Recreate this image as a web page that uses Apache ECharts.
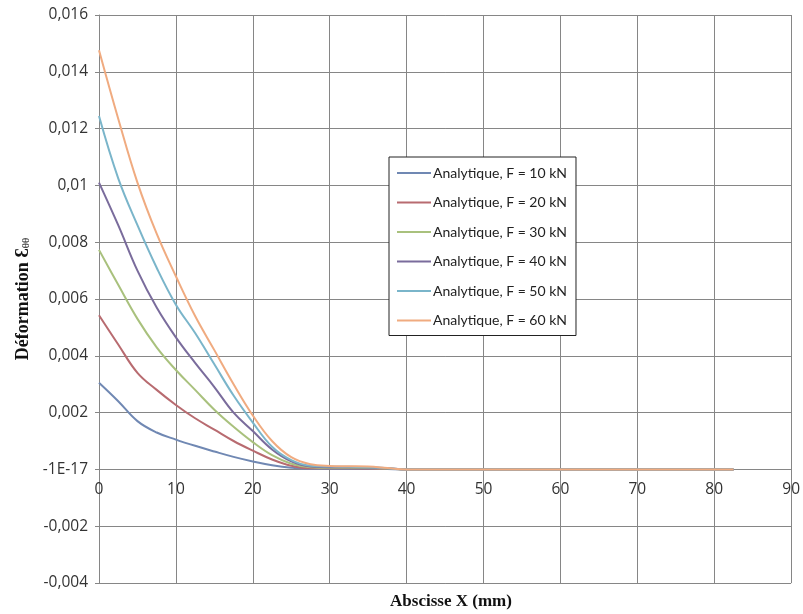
<!DOCTYPE html>
<html>
<head>
<meta charset="utf-8">
<script src="https://cdn.jsdelivr.net/npm/echarts@6/dist/echarts.min.js"></script>
<style>html,body{margin:0;padding:0;background:#fff;}#c{width:803px;height:614px;}</style>
</head>
<body>
<div id="c"></div>
<script>
const xValues = [0, 2.5, 5, 7.5, 10, 12.5, 15, 17.5, 20, 22.5, 25, 27.5, 30, 32.5, 35, 37.5, 40, 42.5, 50, 60, 70, 80, 82.5];
const f10 = [0.00305, 0.0024, 0.0017, 0.0013, 0.00105, 0.00083, 0.00063, 0.00044, 0.00028, 0.00015, 0.00006, 0.00002, 0.00002, 0.00002, 0.00002, 0.00001, 0, 0, 0, 0, 0, 0, 0];
const f20 = [0.00543, 0.0044, 0.0034, 0.0028, 0.00227, 0.0018, 0.0014, 0.001, 0.00066, 0.00035, 0.00013, 0.00004, 0.00004, 0.00004, 0.00003, 0.00002, 0, 0, 0, 0, 0, 0, 0];
const f30 = [0.00773, 0.0065, 0.0053, 0.0043, 0.0035, 0.0028, 0.0021, 0.0015, 0.00096, 0.0005, 0.0002, 0.00008, 0.00006, 0.00006, 0.00005, 0.00003, 0, 0, 0, 0, 0, 0, 0];
const f40 = [0.0101, 0.0086, 0.0070, 0.0057, 0.00465, 0.00375, 0.0029, 0.0020, 0.00135, 0.0007, 0.00028, 0.0001, 0.00008, 0.00008, 0.00007, 0.00004, 0, 0, 0, 0, 0, 0, 0];
const f50 = [0.01244, 0.01025, 0.0086, 0.0071, 0.0058, 0.0048, 0.0037, 0.0026, 0.00165, 0.0008, 0.00033, 0.00013, 0.0001, 0.00009, 0.00008, 0.00004, 0, 0, 0, 0, 0, 0, 0];
const f60 = [0.01476, 0.01235, 0.0101, 0.0083, 0.0068, 0.0054, 0.0042, 0.003, 0.0019, 0.001, 0.00043, 0.00018, 0.00012, 0.00011, 0.0001, 0.00005, 0, 0, 0, 0, 0, 0, 0];
const seriesNames = ['Analytique, F = 10 kN', 'Analytique, F = 20 kN', 'Analytique, F = 30 kN', 'Analytique, F = 40 kN', 'Analytique, F = 50 kN', 'Analytique, F = 60 kN'];
const yTickLabels = ['-0,004', '-0,002', '-1E-17', '0,002', '0,004', '0,006', '0,008', '0,01', '0,012', '0,014', '0,016'];
const xTickLabels = ['0', '10', '20', '30', '40', '50', '60', '70', '80', '90'];

const allValues = [f10, f20, f30, f40, f50, f60];
const colors = ['#7088b3', '#b86b70', '#a9c17d', '#7a6c9c', '#7ab5ca', '#f0ab80'];
const yMin = -0.004, yMax = 0.016, yInt = 0.002;
const gridTop = 15, gridBottomPx = 583;
const zeroOffset = (gridBottomPx - gridTop) * (0 - yMin) / (yMax - yMin);

const chart = echarts.init(document.getElementById('c'));
chart.setOption({
  backgroundColor: '#ffffff',
  animation: false,
  title: {
    text: 'Abscisse X (mm)',
    left: 446, top: 588,
    textAlign: 'center',
    textStyle: { fontFamily: 'Liberation Serif', fontWeight: 'bold', fontSize: 17, color: '#111' }
  },
  grid: { left: 99, right: 9, top: gridTop, bottom: 614 - gridBottomPx, containLabel: false },
  legend: {
    orient: 'vertical',
    left: 389, top: 157,
    width: 190,
    padding: [9, 9, 8, 7],
    itemWidth: 34, itemHeight: 14, itemGap: 15.5,
    borderColor: '#222', borderWidth: 1,
    backgroundColor: '#fff',
    itemStyle: { opacity: 0 },
    lineStyle: { width: 2 },
    textStyle: { fontFamily: 'Lato', fontSize: 14, color: '#222', padding: [0, 0, 0, -3] },
    data: seriesNames
  },
  xAxis: {
    type: 'value', min: 0, max: 90, interval: 10,
    offset: -zeroOffset,
    axisLine: { show: true, onZero: false, lineStyle: { color: '#868686', width: 1 } },
    axisTick: { show: false },
    splitLine: { show: true, lineStyle: { color: '#868686', width: 1 } },
    axisLabel: {
      margin: 12, fontFamily: 'Open Sans', fontSize: 15.5, color: '#333',
      formatter: function (v) { return xTickLabels[Math.round(v / 10)]; }
    }
  },
  yAxis: {
    type: 'value', min: yMin, max: yMax, interval: yInt,
    name: '{a|Déformation Ɛ}{b|θθ}',
    nameLocation: 'middle', nameRotate: 90, nameGap: 66,
    nameTextStyle: {
      rich: {
        a: { fontFamily: 'Liberation Serif', fontWeight: 'bold', fontSize: 18, color: '#111' },
        b: { fontFamily: 'Liberation Serif', fontWeight: 'normal', fontSize: 11, color: '#111', verticalAlign: 'bottom' }
      }
    },
    axisLine: { show: true, lineStyle: { color: '#868686', width: 1 } },
    axisTick: { show: true, length: 4, lineStyle: { color: '#868686' } },
    splitLine: { show: true, lineStyle: { color: '#868686', width: 1 } },
    axisLabel: {
      margin: 11, fontFamily: 'Open Sans', fontSize: 15.5, color: '#333',
      formatter: function (v) { return yTickLabels[Math.round((v - yMin) / yInt)]; }
    }
  },
  series: allValues.map(function (vals, i) {
    return {
      name: seriesNames[i], type: 'line',
      data: xValues.map(function (x, j) { return [x, vals[j]]; }),
      symbol: 'none', smooth: 0.4,
      color: colors[i],
      lineStyle: { width: 2, color: colors[i] }
    };
  })
});
</script>
</body>
</html>
